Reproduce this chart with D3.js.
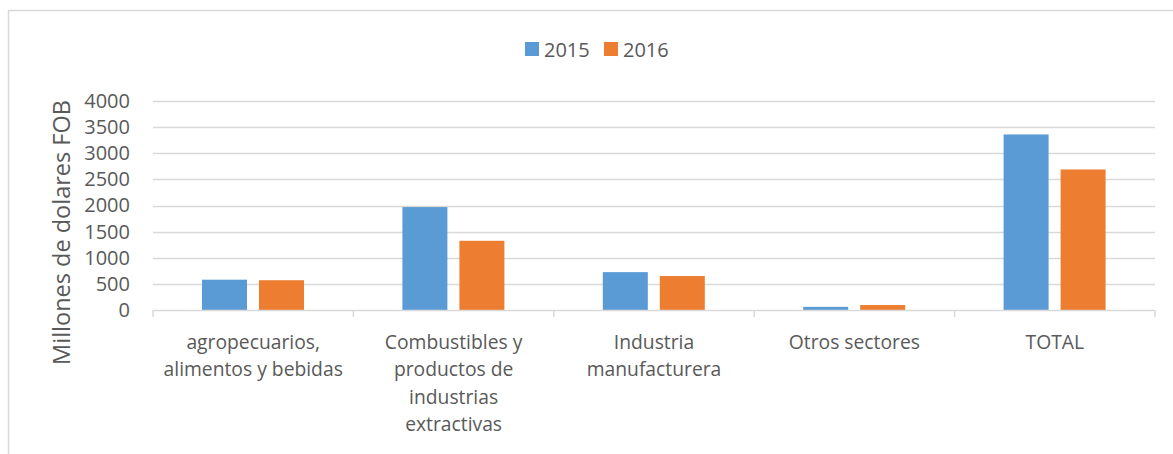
<!DOCTYPE html>
<html>
<head>
<meta charset="utf-8">
<script src="https://cdn.jsdelivr.net/npm/d3@7"></script>
<style>
  html, body { margin: 0; padding: 0; background: #fff; }
  svg { display: block; }
</style>
</head>
<body>
<svg id="chart" width="1173" height="454"></svg>
<script>
const categories = ["agropecuarios, alimentos y bebidas", "Combustibles y productos de industrias extractivas", "Industria manufacturera", "Otros sectores", "TOTAL"];
const categoryLabelLines = [
  ["agropecuarios,", "alimentos y bebidas"],
  ["Combustibles y", "productos de", "industrias", "extractivas"],
  ["Industria", "manufacturera"],
  ["Otros sectores"],
  ["TOTAL"]
];
const series = ["2015", "2016"];
const values2015 = [580, 1970, 725, 60, 3360];
const values2016 = [570, 1325, 650, 95, 2690];
const yTicks = [0, 500, 1000, 1500, 2000, 2500, 3000, 3500, 4000];
const colors = ["#5B9BD5", "#ED7D31"];
const yTitle = "Millones de dolares FOB";

const font = "'Open Sans', 'Noto Sans', sans-serif";
const textColor = "#595959";
const gridColor = "#d9d9d9";

const svg = d3.select("#chart");

// outer chart border
svg.append("rect")
  .attr("x", 8.5).attr("y", 10.5)
  .attr("width", 1200).attr("height", 500)
  .attr("fill", "none").attr("stroke", gridColor).attr("stroke-width", 1.5);

const plot = { left: 153, right: 1155, top: 101, bottom: 310 };

const x0 = d3.scaleBand().domain(categories).range([plot.left, plot.right]).padding(0);
const x1 = d3.scaleBand().domain(series).range([49, 151]).paddingInner(12 / 57).paddingOuter(0);
const y = d3.scaleLinear().domain([0, 4000]).range([plot.bottom, plot.top]);

// gridlines
svg.append("g").selectAll("line").data(yTicks.filter(d => d > 0)).join("line")
  .attr("x1", plot.left).attr("x2", plot.right)
  .attr("y1", d => Math.round(y(d)) + 0.5).attr("y2", d => Math.round(y(d)) + 0.5)
  .attr("stroke", gridColor).attr("stroke-width", 1.5);

// y tick labels
const yAxis = d3.axisLeft(y).tickValues(yTicks).tickSize(0).tickPadding(0).tickFormat(d3.format("d"));
const yg = svg.append("g").attr("transform", `translate(${plot.left - 23},0)`).call(yAxis);
yg.select(".domain").remove();
yg.selectAll("text").attr("font-family", font).attr("font-size", 20).attr("fill", textColor);

// bars
const data = categories.map((c, i) => ({ cat: c, vals: [values2015[i], values2016[i]] }));
const groups = svg.append("g").selectAll("g").data(data).join("g")
  .attr("transform", d => `translate(${x0(d.cat)},0)`);
groups.selectAll("rect").data(d => series.map((s, j) => ({ s, v: d.vals[j], j }))).join("rect")
  .attr("x", d => x1(d.s))
  .attr("width", x1.bandwidth())
  .attr("y", d => y(d.v))
  .attr("height", d => y(0) - y(d.v))
  .attr("fill", d => colors[d.j]);

// x axis line and ticks
const xg = svg.append("g");
xg.append("line").attr("x1", plot.left).attr("x2", plot.right)
  .attr("y1", plot.bottom + 0.5).attr("y2", plot.bottom + 0.5)
  .attr("stroke", gridColor).attr("stroke-width", 1.5);
const boundaries = categories.map(c => x0(c)).concat([plot.right]);
xg.selectAll("line.tk").data(boundaries).join("line").attr("class", "tk")
  .attr("x1", d => d).attr("x2", d => d)
  .attr("y1", plot.bottom).attr("y2", plot.bottom + 7)
  .attr("stroke", gridColor).attr("stroke-width", 1.5);

// category labels
const labels = svg.append("g").selectAll("text").data(categories).join("text")
  .attr("x", d => x0(d) + x0.bandwidth() / 2)
  .attr("y", 349)
  .attr("text-anchor", "middle")
  .attr("font-family", font).attr("font-size", 19.3).attr("fill", textColor);
labels.each(function(d, i) {
  d3.select(this).selectAll("tspan").data(categoryLabelLines[i]).join("tspan")
    .attr("x", x0(d) + x0.bandwidth() / 2)
    .attr("dy", (t, k) => k === 0 ? 0 : 27.3)
    .text(t => t);
});

// y title
svg.append("text")
  .attr("transform", `translate(70,${(plot.top + 370) / 2 - 3}) rotate(-90)`)
  .attr("text-anchor", "middle")
  .attr("font-family", font).attr("font-size", 23.5).attr("fill", textColor)
  .text(yTitle);

// legend
const legend = svg.append("g");
const legendX = [525, 604];
series.forEach((s, i) => {
  legend.append("rect").attr("x", legendX[i]).attr("y", 42).attr("width", 14).attr("height", 14).attr("fill", colors[i]);
  legend.append("text").attr("x", legendX[i] + 19).attr("y", 56.5)
    .attr("font-family", font).attr("font-size", 20).attr("fill", textColor).text(s);
});
</script>
</body>
</html>
